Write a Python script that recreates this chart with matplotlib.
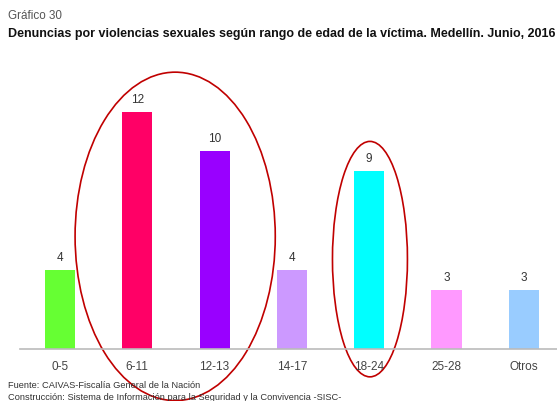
import matplotlib.pyplot as plt
from matplotlib.patches import Ellipse

categories = ["0-5", "6-11", "12-13", "14-17", "18-24", "25-28", "Otros"]
values = [4, 12, 10, 4, 9, 3, 3]
colors = ["#66FF33", "#FF0066", "#9900FF", "#CC99FF", "#00FFFF", "#FF99FF", "#99CCFF"]

plt.rcParams["font.family"] = ["Liberation Sans", "DejaVu Sans"]

fig = plt.figure(figsize=(5.57, 4.02), dpi=100)
ax = fig.add_axes([0.036, 0.129, 0.964, 0.689])

x = range(len(categories))
bars = ax.bar(x, values, width=0.39, color=colors)
for i, v in enumerate(values):
    ax.text(i, v + 0.35, str(v), ha="center", va="bottom", fontsize=8.5, color="#333333")

ax.set_xlim(-0.517, 6.43)
ax.set_ylim(0, 14)
ax.set_xticks(list(x))
ax.set_xticklabels(categories, fontsize=8.5, color="#444444")
ax.tick_params(axis="x", length=0, pad=8)
ax.set_yticks([])
for side in ["top", "right", "left"]:
    ax.spines[side].set_visible(False)
ax.spines["bottom"].set_color("#BBBBBB")
ax.spines["bottom"].set_linewidth(1.2)

# hand-drawn highlight circles
ax.add_patch(Ellipse((1.49, 5.7), 2.59, 16.6, fill=False, edgecolor="#C00000",
                     linewidth=1.2, clip_on=False))
ax.add_patch(Ellipse((4.01, 4.55), 0.97, 11.9, fill=False, edgecolor="#C00000",
                     linewidth=1.2, clip_on=False))

fig.text(0.014, 0.961, "Gráfico 30", fontsize=8.4, color="#555555", va="center")
fig.text(0.014, 0.915, "Denuncias por violencias sexuales según rango de edad de la víctima. Medellín. Junio, 2016",
         fontsize=9, fontweight="bold", color="#111111", va="center")
fig.text(0.014, 0.042, "Fuente: CAIVAS-Fiscalía General de la Nación", fontsize=6.7, color="#333333", va="center")
fig.text(0.014, 0.012, "Construcción: Sistema de Información para la Seguridad y la Convivencia -SISC-",
         fontsize=6.7, color="#333333", va="center")

fig.savefig("out.png", dpi=100)
